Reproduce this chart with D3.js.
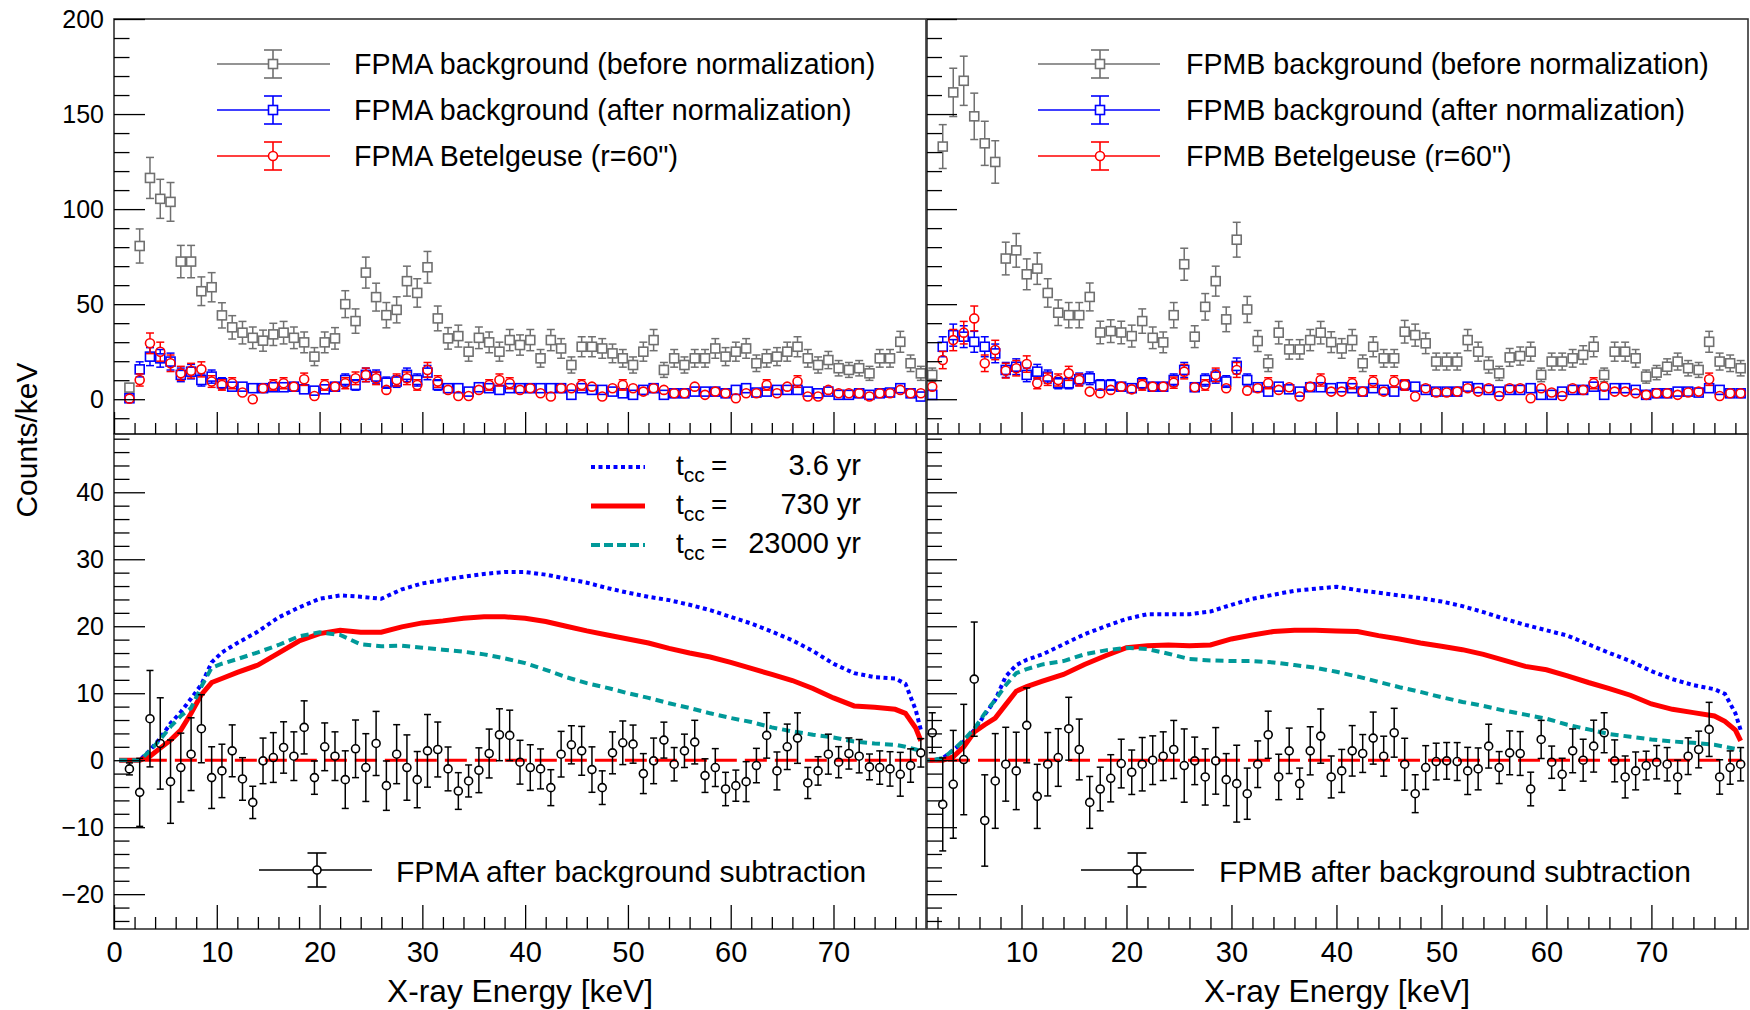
<!DOCTYPE html>
<meta charset="utf-8">
<style>
body { margin: 0; background: #fff; }
svg { font-family: "Liberation Sans", Arial, Helvetica, sans-serif; }
</style>
<body>
<script src="https://d3js.org/d3.v7.min.js"></script>
<script>

// bin centres in keV (1 keV bins, 1.5 ... 78.5)
var bins = d3.range(1.5, 79, 1);

// FPMA, top panel
var grayA = [6.1,80.6,116.4,105.4,103.8,72.4,72.4,56.8,58.9,44.1,37.8,35.0,32.3,30.8,34.1,35.0,32.3,29.9,22.4,29.9,
  32.0,50.0,41.1,66.6,53.7,44.2,47.0,62.1,55.9,69.4,42.5,32.0,33.2,25.0,32.3,29.9,25.0,31.1,28.5,31.1,
  21.5,31.1,26.7,18.0,27.6,27.6,26.7,24.1,21.5,18.0,25.0,31.1,15.4,21.5,18.0,21.5,21.5,26.7,22.4,25.0,
  26.7,18.9,21.5,22.4,25.0,27.6,21.5,18.0,20.6,16.3,15.4,16.3,13.6,21.5,21.5,30.2,18.9,13.6];
var blueA = [0.5,15.7,22.4,21.5,19.8,12.8,14.5,10.1,11.9,8.4,6.6,6.6,5.8,5.8,6.3,6.3,6.6,5.2,4.5,5.2,
  6.6,10.1,7.5,12.8,11.9,8.7,9.3,12.8,10.1,14.0,7.5,5.8,5.8,4.0,6.3,5.8,4.9,5.8,5.8,5.8,
  5.8,5.8,5.8,2.3,5.8,4.9,4.9,4.0,3.1,2.3,4.9,5.8,2.3,3.1,3.1,4.0,4.0,4.0,3.1,4.9,
  5.8,3.5,4.0,4.9,4.9,4.9,4.0,3.1,4.0,2.3,2.3,3.1,2.3,3.1,3.5,5.8,3.1,1.4];
var redA = [0.3,10.1,29.4,25.0,18.9,13.6,15.0,15.7,9.3,7.5,8.4,3.5,0.0,5.8,7.5,8.4,6.6,10.5,1.7,7.5,
  6.6,8.4,11.0,12.8,11.0,4.9,10.1,11.0,7.5,15.4,9.3,4.9,1.7,1.7,4.9,7.5,10.1,8.4,4.9,5.8,
  3.1,1.4,5.8,5.8,7.5,6.6,1.4,5.8,7.5,5.8,4.0,5.8,4.9,3.1,3.1,6.6,2.3,4.0,3.1,0.5,
  3.1,3.1,7.5,3.1,6.6,9.3,1.4,1.4,4.9,3.1,3.1,3.1,1.4,3.1,3.1,4.9,3.1,3.1];

// FPMB, top panel
var grayB = [12.8,132.9,161.4,167.5,148.8,134.6,124.8,74.0,78.3,65.7,68.7,55.9,45.5,44.2,44.2,53.8,35.1,35.8,35.1,33.2,
  41.1,32.3,29.9,44.2,71.0,32.9,48.6,62.1,42.0,83.9,47.2,30.6,18.9,35.0,26.2,26.2,31.1,35.0,30.0,26.7,
  31.1,18.9,27.6,21.5,21.5,35.5,33.7,29.4,19.8,19.8,19.8,31.1,25.0,18.0,13.6,22.0,22.7,25.0,12.8,19.8,
  19.8,21.5,23.3,27.6,12.8,25.0,25.0,21.5,11.9,14.0,17.1,19.8,16.3,15.4,30.2,19.8,18.9,16.3];
var blueB = [2.3,27.6,33.7,32.9,30.2,27.6,24.1,15.4,17.1,12.8,14.5,11.9,8.4,8.4,10.5,11.0,7.5,7.5,6.6,5.8,
  8.4,6.6,6.6,10.1,15.4,6.3,10.1,11.9,9.3,17.5,10.1,6.3,4.0,6.6,5.2,4.0,6.3,6.3,5.8,6.3,
  5.8,4.0,5.8,4.9,4.0,7.5,6.6,4.9,4.0,4.0,4.0,6.6,5.8,4.9,4.0,4.9,4.9,5.8,2.3,2.3,
  4.0,4.9,4.9,6.6,2.3,5.8,5.8,4.9,2.3,3.1,3.1,4.0,4.0,3.5,5.8,4.9,3.1,3.1];
var redB = [6.6,20.6,31.1,35.0,42.5,18.9,25.9,15.0,16.3,18.5,8.4,10.5,10.1,13.6,10.1,4.0,3.1,4.9,6.6,5.2,
  7.5,6.6,6.6,8.7,14.5,6.3,7.5,12.8,5.8,15.4,4.5,5.8,8.4,4.9,6.3,1.4,6.6,10.1,4.0,4.0,
  8.4,4.0,9.3,4.0,9.3,7.5,1.4,5.8,3.5,3.5,4.0,5.8,4.0,5.8,1.7,5.8,5.8,0.5,5.8,3.5,
  1.7,5.8,4.9,8.4,6.6,4.0,4.0,3.1,2.3,3.1,3.1,2.3,3.5,4.0,10.5,1.7,3.1,3.1];

// after background subtraction
var resA = [-1.3,-4.8,6.2,2.5,-3.2,-1.1,0.9,4.7,-2.6,-1.6,1.4,-2.8,-6.3,-0.1,0.4,1.9,0.6,4.9,-2.6,2.0,
  0.6,-2.9,1.7,-1.1,2.5,-3.8,0.9,-1.1,-2.9,1.4,1.6,-1.3,-4.6,-3.1,-1.5,1.0,3.8,3.7,-0.3,-1.1,
  -1.3,-4.1,0.9,2.3,1.4,-1.4,-4.1,1.1,2.6,2.4,-2.0,-0.1,3.0,-0.6,1.4,2.7,-2.3,-1.1,-4.3,-3.8,
  -3.2,-0.8,3.7,-1.6,2.0,3.3,-3.4,-1.6,0.9,-0.3,1.0,0.6,-1.0,-1.1,-1.3,-2.1,-0.8,1.1];
var resB = [4.1,-6.6,-3.6,0.1,12.1,-9.0,-3.1,-0.6,-1.6,5.2,-5.4,-0.6,0.4,4.7,1.6,-6.3,-4.3,-2.7,-0.5,-1.8,
  -0.6,0.0,0.6,1.6,-0.8,-0.1,-2.5,-0.1,-2.9,-3.5,-5.0,-0.6,3.8,-2.5,1.4,-3.5,1.4,3.6,-2.5,-1.6,
  1.4,1.0,3.3,0.6,4.1,-0.6,-5.0,-1.1,-0.2,-0.1,-0.2,-1.6,-1.3,2.1,-1.1,1.1,1.0,-4.3,3.1,-0.3,
  -2.1,1.4,0.0,2.1,4.1,-0.1,-2.5,-1.6,-0.8,-0.3,-0.6,-2.5,0.6,1.6,4.6,-2.5,-1.1,-0.6];

// model spectra
var modelE = [0.5,1.5,2.5,3.5,4.5,5.5,6.5,7.5,8.5,9.5,10.5,12,14,16,18,20,22,24,26,28,30,32,34,36,38,40,
  42,44,46,48,50,52,54,56,58,60,62,64,66,68,70,72,74,76,77,78,78.5];
var tcc36A = [0,0,0,1.5,3.3,5.5,7.2,9.2,11.3,14.6,16.1,17.5,19.2,21.3,22.8,24.1,24.6,24.4,24.1,25.5,26.4,26.9,27.4,27.8,28.1,28.1,
  27.7,27.1,26.5,25.7,25.0,24.4,23.9,23.2,22.4,21.4,20.4,19.2,17.9,16.3,14.4,13.0,12.4,12.2,11.4,7.5,4.5];
var tcc730A = [0,0,0,0.6,1.8,3.0,4.5,7.0,9.8,11.6,12.2,13.1,14.2,16.0,17.8,18.9,19.4,19.1,19.1,19.9,20.5,20.8,21.2,21.4,21.4,21.2,
  20.7,20.0,19.3,18.7,18.1,17.5,16.7,16.0,15.4,14.6,13.7,12.8,11.9,10.7,9.3,8.1,7.9,7.6,7.0,4.8,2.9];
var tcc23kA = [0,0,0,1.4,3.1,5.0,6.6,7.8,11.0,13.8,14.4,15.1,16.1,17.2,18.5,19.1,18.7,17.3,17.0,17.1,16.8,16.5,16.2,15.8,15.2,14.5,
  13.5,12.4,11.5,10.8,10.0,9.3,8.5,7.8,7.0,6.3,5.7,4.9,4.3,3.8,3.4,2.8,2.5,2.3,2.0,1.6,1.4];
var tcc36B = [0,0,0.3,1.5,2.8,4.5,6.8,9.0,12.5,14.2,15.0,15.8,17.3,18.8,20.0,21.1,21.8,21.8,21.8,22.2,23.2,24.1,24.7,25.3,25.6,25.9,
  25.4,25.0,24.6,24.2,23.7,23.0,22.1,21.1,20.2,19.4,18.6,17.3,16.0,14.8,13.3,12.1,11.2,10.6,9.9,7.0,4.5];
var tcc730B = [0,0,0,0.5,2.0,4.2,5.3,6.3,8.3,10.3,11.0,11.8,12.8,14.3,15.6,16.8,17.1,17.2,17.1,17.2,18.1,18.7,19.2,19.4,19.4,19.3,
  19.2,18.6,18.1,17.5,17.0,16.5,15.8,14.9,14.0,13.5,12.6,11.6,10.7,9.7,8.4,7.6,7.1,6.6,5.8,4.5,2.9];
var tcc23kB = [0,0,0.3,1.5,3.0,4.7,7.0,9.0,11.2,13.0,13.6,14.3,14.8,15.8,16.4,16.8,16.6,15.9,15.1,14.9,14.8,14.8,14.6,14.2,13.8,13.2,
  12.5,11.7,10.9,10.2,9.4,8.7,8.1,7.4,6.8,6.2,5.3,4.6,3.9,3.5,3.1,2.8,2.6,2.3,2.0,1.7,1.5];
var zeroSpan = [3, 78.6];

// tick values
var yTopMajor = [0, 50, 100, 150, 200];
var yTopMinor = [-10, 10, 20, 30, 40, 60, 70, 80, 90, 110, 120, 130, 140, 160, 170, 180, 190];
var yBotMajor = [-20, -10, 0, 10, 20, 30, 40];
var yBotMinor = [-24, -22, -18, -16, -14, -12, -8, -6, -4, -2, 2, 4, 6, 8, 12, 14, 16, 18,
  22, 24, 26, 28, 32, 34, 36, 38, 42, 44, 46, 48];
var xMajorA = [0, 10, 20, 30, 40, 50, 60, 70];
var xMajorB = [10, 20, 30, 40, 50, 60, 70];
var xMinor = [2, 4, 6, 8, 12, 14, 16, 18, 22, 24, 26, 28, 32, 34, 36, 38, 42, 44, 46, 48,
  52, 54, 56, 58, 62, 64, 66, 68, 72, 74, 76, 78];

var legTopA = ["FPMA background (before normalization)", "FPMA background (after normalization)", "FPMA Betelgeuse (r=60\")"];
var legTopB = ["FPMB background (before normalization)", "FPMB background (after normalization)", "FPMB Betelgeuse (r=60\")"];
var legModel = ["3.6 yr", "730 yr", "23000 yr"];

var GRAY = "#707070", BLUE = "#0000ff", RED = "#ff0000", TEAL = "#009999";

var svg = d3.select("body").append("svg")
    .attr("width", 1750)
    .attr("height", 1010);

var xA = d3.scaleLinear().domain([0, 79]).range([114, 926]);
var xB = d3.scaleLinear().domain([1, 79.2]).range([927, 1748]);
var yTop = d3.scaleLinear().domain([-18.3, 200]).range([434, 19]);
var yBot = d3.scaleLinear().domain([-25.2, 48.7]).range([929, 434]);

var defs = svg.append("defs");
var clipN = 0;
function panel(x, y) {
  var id = "clip" + (clipN++);
  var x0 = x.range()[0], x1 = x.range()[1], y0 = y.range()[1], y1 = y.range()[0];
  defs.append("clipPath").attr("id", id).append("rect")
      .attr("x", x0).attr("y", y0).attr("width", x1 - x0).attr("height", y1 - y0);
  return svg.append("g").attr("clip-path", "url(#" + id + ")");
}

function frame(x, y) {
  var x0 = x.range()[0], x1 = x.range()[1], y0 = y.range()[1], y1 = y.range()[0];
  svg.append("rect")
      .attr("x", x0).attr("y", y0).attr("width", x1 - x0).attr("height", y1 - y0)
      .attr("fill", "none").attr("stroke", "#333").attr("stroke-width", 1.6);
}

function styleAxis(g, size) {
  g.attr("font-family", null).attr("font-size", null);
  g.select(".domain").remove();
  g.selectAll(".tick line").attr("stroke", "#000").attr("stroke-width", 1.3);
  g.selectAll(".tick text").attr("fill", "#000").style("font-size", size + "px");
}

function yAxis(x, y, major, minor, lenMaj, lenMin, labels) {
  var gx = x.range()[0];
  var g1 = svg.append("g").attr("transform", "translate(" + gx + ",0)")
      .call(d3.axisLeft(y).tickValues(major).tickSize(-lenMaj).tickPadding(10)
        .tickFormat(labels ? d3.format("") : function() { return ""; }));
  styleAxis(g1, 25);
  var g2 = svg.append("g").attr("transform", "translate(" + gx + ",0)")
      .call(d3.axisLeft(y).tickValues(minor).tickSize(-lenMin).tickFormat(function() { return ""; }));
  styleAxis(g2, 25);
}

function xAxis(x, y, major, lenMaj, lenMin, labels) {
  var gy = y.range()[0];
  var g1 = svg.append("g").attr("transform", "translate(0," + gy + ")")
      .call(d3.axisBottom(x).tickValues(major).tickSize(-lenMaj).tickPadding(12)
        .tickFormat(labels ? d3.format("") : function() { return ""; }));
  styleAxis(g1, 29);
  var g2 = svg.append("g").attr("transform", "translate(0," + gy + ")")
      .call(d3.axisBottom(x).tickValues(xMinor.filter(function(v) { return v >= x.domain()[0]; }))
        .tickSize(-lenMin).tickFormat(function() { return ""; }));
  styleAxis(g2, 29);
}

// vertical error bar + open marker
function marker(g, cx, cy, shape, color, r, fill) {
  if (shape == "square") {
    g.append("rect").attr("x", cx - r).attr("y", cy - r).attr("width", 2 * r).attr("height", 2 * r)
      .attr("fill", fill || "none").attr("stroke", color).attr("stroke-width", 1.6);
  } else {
    g.append("circle").attr("cx", cx).attr("cy", cy).attr("r", r)
      .attr("fill", fill || "none").attr("stroke", color).attr("stroke-width", 1.6);
  }
}
function errBar(g, cx, yHi, yLo, cy, r, cap, color) {
  if (cy - r > yHi + 0.5) {
    g.append("line").attr("x1", cx).attr("x2", cx).attr("y1", yHi).attr("y2", cy - r);
    g.append("line").attr("x1", cx - cap / 2).attr("x2", cx + cap / 2).attr("y1", yHi).attr("y2", yHi);
  }
  if (yLo > cy + r + 0.5) {
    g.append("line").attr("x1", cx).attr("x2", cx).attr("y1", cy + r).attr("y2", yLo);
    g.append("line").attr("x1", cx - cap / 2).attr("x2", cx + cap / 2).attr("y1", yLo).attr("y2", yLo);
  }
}

function points(g, x, y, vals, errs, shape, color, r, cap) {
  var s = g.append("g").attr("stroke", color).attr("stroke-width", 1.5);
  var data = vals.map(function(v, i) { return {e: bins[i], v: v, s: errs[i]}; })
      .filter(function(d) { return d.e >= x.domain()[0]; });
  s.selectAll(null).data(data).enter().append("g").each(function(d) {
    var gg = d3.select(this);
    var cx = x(d.e), cy = y(d.v);
    errBar(gg, cx, y(d.v + d.s), y(d.v - d.s), cy, r, cap, color);
    marker(gg, cx, cy, shape, color, r);
  });
}

function topPanel(x, gray, blue, red, legText, lx0, lx1, lm, lt) {
  var g = panel(x, yTop);
  var eG = gray.map(function(v) { return Math.sqrt(Math.max(v, 0)); });
  var eB = blue.map(function(v) { return Math.sqrt(Math.max(v, 0)); });
  var eR = red.map(function(v) { return Math.sqrt(Math.max(v, 0)); });
  points(g, x, yTop, gray, eG, "square", GRAY, 4.5, 8);
  points(g, x, yTop, blue, eB, "square", BLUE, 4.5, 8);
  points(g, x, yTop, red, eR, "circle", RED, 4.5, 8);

  var rows = [64, 110, 156];
  var cols = [GRAY, BLUE, RED], shapes = ["square", "square", "circle"];
  rows.forEach(function(ry, i) {
    var lg = svg.append("g").attr("stroke", cols[i]).attr("stroke-width", 1.6);
    lg.append("line").attr("x1", lx0).attr("x2", lm - 4.5).attr("y1", ry).attr("y2", ry);
    lg.append("line").attr("x1", lm + 4.5).attr("x2", lx1).attr("y1", ry).attr("y2", ry);
    errBar(lg, lm, ry - 14, ry + 14, ry, 4.5, 18, cols[i]);
    marker(lg, lm, ry, shapes[i], cols[i], 4.5);
    svg.append("text").attr("x", lt).attr("y", ry + 10).style("font-size", "28.6px").text(legText[i]);
  });
}

function curve(g, x, vals, color, width, dash) {
  var line = d3.line().x(function(d, i) { return x(modelE[i]); }).y(function(d) { return yBot(d); });
  g.append("path").datum(vals).attr("d", line)
      .attr("fill", "none").attr("stroke", color).attr("stroke-width", width)
      .attr("stroke-dasharray", dash);
}

function bottomPanel(x, m36, m730, m23k, res, red, blue, label, lx0, lx1, lm, lt) {
  var g = panel(x, yBot);
  curve(g, x, m36, BLUE, 4, "4,3.5");
  curve(g, x, m730, RED, 5, null);
  curve(g, x, m23k, TEAL, 4, "8,5");
  g.append("line")
      .attr("x1", x(zeroSpan[0])).attr("x2", x(zeroSpan[1]))
      .attr("y1", yBot(0)).attr("y2", yBot(0))
      .attr("stroke", RED).attr("stroke-width", 3).attr("stroke-dasharray", "22,8");
  var eRes = res.map(function(v, i) { return Math.sqrt(Math.max(red[i], 0) + Math.max(blue[i], 0)); });
  points(g, x, yBot, res, eRes, "circle", "#000", 4, 7);

  var ly = 870;
  var lg = svg.append("g").attr("stroke", "#000").attr("stroke-width", 1.6);
  lg.append("line").attr("x1", lx0).attr("x2", lm - 4).attr("y1", ly).attr("y2", ly);
  lg.append("line").attr("x1", lm + 4).attr("x2", lx1).attr("y1", ly).attr("y2", ly);
  errBar(lg, lm, ly - 17, ly + 17, ly, 4, 19, "#000");
  marker(lg, lm, ly, "circle", "#000", 4);
  svg.append("text").attr("x", lt).attr("y", ly + 12).style("font-size", "30px").text(label);
}

topPanel(xA, grayA, blueA, redA, legTopA, 217, 330, 273, 354);
topPanel(xB, grayB, blueB, redB, legTopB, 1038, 1160, 1100, 1186);
bottomPanel(xA, tcc36A, tcc730A, tcc23kA, resA, redA, blueA, "FPMA after background subtraction", 259, 372, 317, 396);
bottomPanel(xB, tcc36B, tcc730B, tcc23kB, resB, redB, blueB, "FPMB after background subtraction", 1081, 1194, 1137, 1219);

// model legend (lower left)
var mRows = [467, 506, 545];
var mStyles = [[BLUE, 4, "4,3.5"], [RED, 5, null], [TEAL, 4, "9,4"]];
mRows.forEach(function(ry, i) {
  svg.append("line").attr("x1", 591).attr("x2", 645).attr("y1", ry).attr("y2", ry)
      .attr("stroke", mStyles[i][0]).attr("stroke-width", mStyles[i][1])
      .attr("stroke-dasharray", mStyles[i][2]);
  var t = svg.append("text").attr("x", 676).attr("y", ry + 8).style("font-size", "28px");
  t.append("tspan").text("t");
  t.append("tspan").attr("dy", 7).style("font-size", "21px").text("cc");
  svg.append("text").attr("x", 711).attr("y", ry + 8).style("font-size", "28px").text("=");
  svg.append("text").attr("x", 861).attr("y", ry + 8).attr("text-anchor", "end")
      .style("font-size", "29px").text(legModel[i]);
});

frame(xA, yTop); frame(xB, yTop); frame(xA, yBot); frame(xB, yBot);

yAxis(xA, yTop, yTopMajor, yTopMinor, 31, 15.5, true);
yAxis(xB, yTop, yTopMajor, yTopMinor, 30, 15, false);
yAxis(xA, yBot, yBotMajor, yBotMinor, 31, 15.5, true);
yAxis(xB, yBot, yBotMajor, yBotMinor, 30, 15, false);
xAxis(xA, yTop, xMajorA, 22, 11, false);
xAxis(xB, yTop, xMajorB, 22, 11, false);
xAxis(xA, yBot, xMajorA, 24, 12, true);
xAxis(xB, yBot, xMajorB, 24, 12, true);

svg.append("text")
    .attr("transform", "translate(37,440) rotate(-90)")
    .attr("text-anchor", "middle")
    .style("font-size", "30px")
    .text("Counts/keV");
svg.append("text").attr("x", 520).attr("y", 1002).attr("text-anchor", "middle")
    .style("font-size", "31.7px").text("X-ray Energy [keV]");
svg.append("text").attr("x", 1337).attr("y", 1002).attr("text-anchor", "middle")
    .style("font-size", "31.7px").text("X-ray Energy [keV]");

</script>
